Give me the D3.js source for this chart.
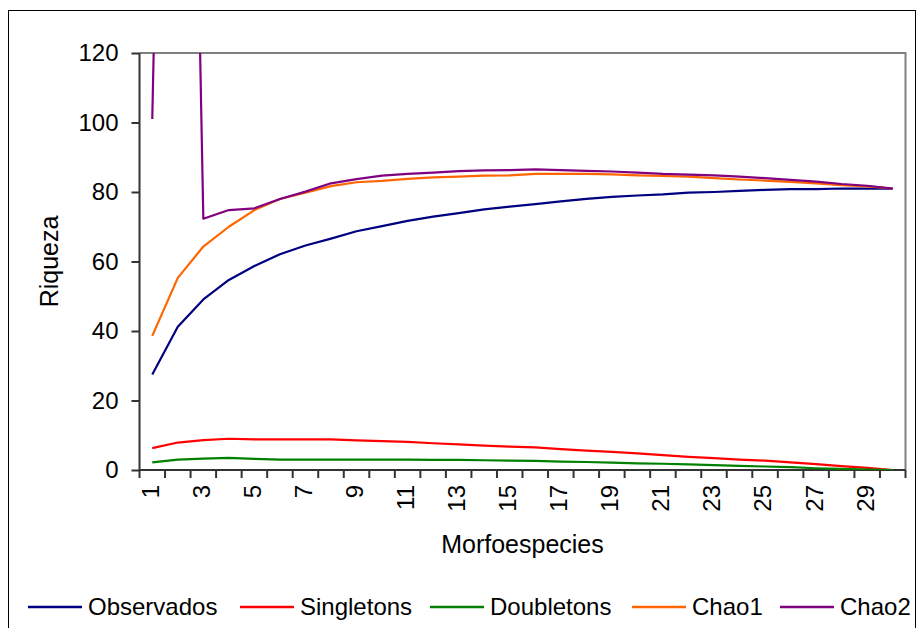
<!DOCTYPE html>
<html>

<head>
	<title>Riqueza vs Morfoespecies</title>
	<meta charset="utf-8">
	<script src="https://d3js.org/d3.v7.min.js"></script>
	<style>
		body {
			padding: 0;
			margin: 0;
			background: white;
		}

		#svg_graph {
			font-family: "Liberation Sans", Arial, sans-serif;
		}

		.axis text {
			fill: black;
		}
	</style>
</head>

<body>
	<div id="graph"></div>
	<script>
		//the data (one value per sample)
		var categories = d3.range(1, 31);
		var observados = [27.5, 41.2, 49.1, 54.7, 58.7, 62.1, 64.6, 66.6, 68.7, 70.2, 71.7, 72.9, 73.9, 75.0, 75.8, 76.5, 77.3, 78.0, 78.6, 79.0, 79.3, 79.8, 80.0, 80.3, 80.6, 80.8, 80.8, 81.0, 81.0, 81.0];
		var singletons = [6.3, 7.9, 8.6, 9.0, 8.8, 8.8, 8.8, 8.8, 8.5, 8.3, 8.1, 7.7, 7.4, 7.0, 6.7, 6.5, 6.0, 5.6, 5.2, 4.8, 4.3, 3.8, 3.4, 3.0, 2.7, 2.2, 1.7, 1.1, 0.6, 0];
		var doubletons = [2.2, 3.0, 3.3, 3.5, 3.2, 3.0, 3.0, 3.0, 3.0, 3.0, 3.0, 2.9, 2.9, 2.8, 2.7, 2.6, 2.4, 2.3, 2.1, 1.9, 1.8, 1.6, 1.4, 1.2, 1.0, 0.8, 0.5, 0.3, 0.1, 0];
		var chao1 = [38.6, 55.3, 64.3, 70.0, 74.8, 78.0, 79.8, 81.7, 82.8, 83.2, 83.8, 84.2, 84.4, 84.7, 84.8, 85.2, 85.2, 85.2, 85.1, 84.8, 84.6, 84.4, 84.0, 83.6, 83.3, 82.9, 82.5, 82.0, 81.6, 81];
		var chao2 = [101, 450, 72.3, 74.8, 75.3, 78.0, 80.1, 82.5, 83.7, 84.7, 85.2, 85.6, 86.0, 86.2, 86.3, 86.5, 86.3, 86.1, 85.9, 85.6, 85.2, 85.0, 84.8, 84.4, 84.0, 83.5, 83.0, 82.3, 81.8, 81];
		var yTicks = [0, 20, 40, 60, 80, 100, 120];
		var xLabels = categories.filter(function (d) { return d % 2 == 1; });

		var seriesNames = ["Observados", "Singletons", "Doubletons", "Chao1", "Chao2"];
		var seriesValues = [observados, singletons, doubletons, chao1, chao2];
		var seriesColors = ["#000080", "#ff0000", "#008000", "#ff6600", "#800080"];

		var width = 917, height = 628;
		//plot area edges (pixels)
		var plot = { left: 139.5, right: 905.5, top: 53, bottom: 470 };

		var svg = d3.select("#graph")
			.append("svg")
			.attr("id", "svg_graph")
			.attr("width", width)
			.attr("height", height);

		//outer chart border
		svg.append("rect")
			.attr("x", 8.5)
			.attr("y", 10.5)
			.attr("width", 907)
			.attr("height", 640)
			.attr("fill", "white")
			.attr("stroke", "black")
			.attr("stroke-width", 1);

		var x = d3.scaleBand().domain(categories).range([plot.left, plot.right]).padding(0);
		var y = d3.scaleLinear().domain([0, 120]).range([plot.bottom, plot.top]);

		//gray frame on top and right of the plot area
		svg.append("path")
			.attr("d", "M" + plot.left + "," + y(120) + "H" + plot.right + "V" + y(0))
			.attr("fill", "none")
			.attr("stroke", "#808080")
			.attr("stroke-width", 2);

		//y axis
		var yAxis = svg.append("g")
			.attr("class", "axis yaxis")
			.attr("transform", "translate(" + plot.left + ",0)")
			.call(d3.axisLeft(y).tickValues(yTicks).tickSize(8).tickPadding(13));
		yAxis.selectAll("text").style("font-size", "24px");
		yAxis.selectAll("line, path").attr("stroke", "#333").attr("stroke-width", 2);
		yAxis.select(".domain").attr("d", "M0," + y(0) + "V" + y(120));

		//x axis -- labels on odd samples, tick marks between every category
		var xAxis = svg.append("g")
			.attr("class", "axis xaxis")
			.attr("transform", "translate(0," + plot.bottom + ")")
			.call(d3.axisBottom(x).tickValues(xLabels).tickSize(0));
		xAxis.select(".domain").attr("d", "M" + plot.left + ",0H" + plot.right)
			.attr("stroke", "#333").attr("stroke-width", 2);
		xAxis.selectAll(".tick text")
			.attr("transform", "rotate(-90)")
			.attr("x", -15)
			.attr("y", -2)
			.attr("dy", "0.35em")
			.attr("text-anchor", "end")
			.style("font-size", "24px");
		xAxis.selectAll(".boundary")
			.data(categories.concat([31]))
			.enter().append("line")
			.attr("class", "boundary")
			.attr("x1", function (d) { return d <= 30 ? x(d) : x(30) + x.bandwidth(); })
			.attr("x2", function (d) { return d <= 30 ? x(d) : x(30) + x.bandwidth(); })
			.attr("y1", 0)
			.attr("y2", 8)
			.attr("stroke", "#333")
			.attr("stroke-width", 2);

		//axis titles
		svg.append("text")
			.attr("transform", "translate(58," + (plot.top + plot.bottom) / 2 + ") rotate(-90)")
			.attr("text-anchor", "middle")
			.style("font-size", "25px")
			.text("Riqueza");

		svg.append("text")
			.attr("x", (plot.left + plot.right) / 2)
			.attr("y", 553)
			.attr("text-anchor", "middle")
			.style("font-size", "25px")
			.text("Morfoespecies");

		//clip the lines to the plot area (Chao2 goes way off the top)
		svg.append("clipPath")
			.attr("id", "plotclip")
			.append("rect")
			.attr("x", plot.left)
			.attr("y", plot.top)
			.attr("width", plot.right - plot.left)
			.attr("height", plot.bottom - plot.top);

		var line = d3.line()
			.x(function (d, i) { return x(categories[i]) + x.bandwidth() / 2; })
			.y(function (d) { return y(d); });

		svg.append("g")
			.attr("clip-path", "url(#plotclip)")
			.selectAll(".series")
			.data(seriesValues)
			.enter().append("path")
			.attr("class", "series")
			.attr("d", line)
			.attr("fill", "none")
			.attr("stroke", function (d, i) { return seriesColors[i]; })
			.attr("stroke-width", 2.2)
			.attr("stroke-linejoin", "round");

		//legend along the bottom
		var legendX = [28, 240, 430, 632, 780];
		var legend = svg.selectAll(".legend")
			.data(seriesNames)
			.enter().append("g")
			.attr("class", "legend")
			.attr("transform", function (d, i) { return "translate(" + legendX[i] + ",607)"; });

		legend.append("line")
			.attr("x1", 0)
			.attr("x2", 54)
			.attr("stroke", function (d, i) { return seriesColors[i]; })
			.attr("stroke-width", 2.5);

		legend.append("text")
			.attr("x", 60)
			.attr("dy", "0.35em")
			.style("font-size", "24px")
			.text(function (d) { return d; });
	</script>
</body>

</html>
